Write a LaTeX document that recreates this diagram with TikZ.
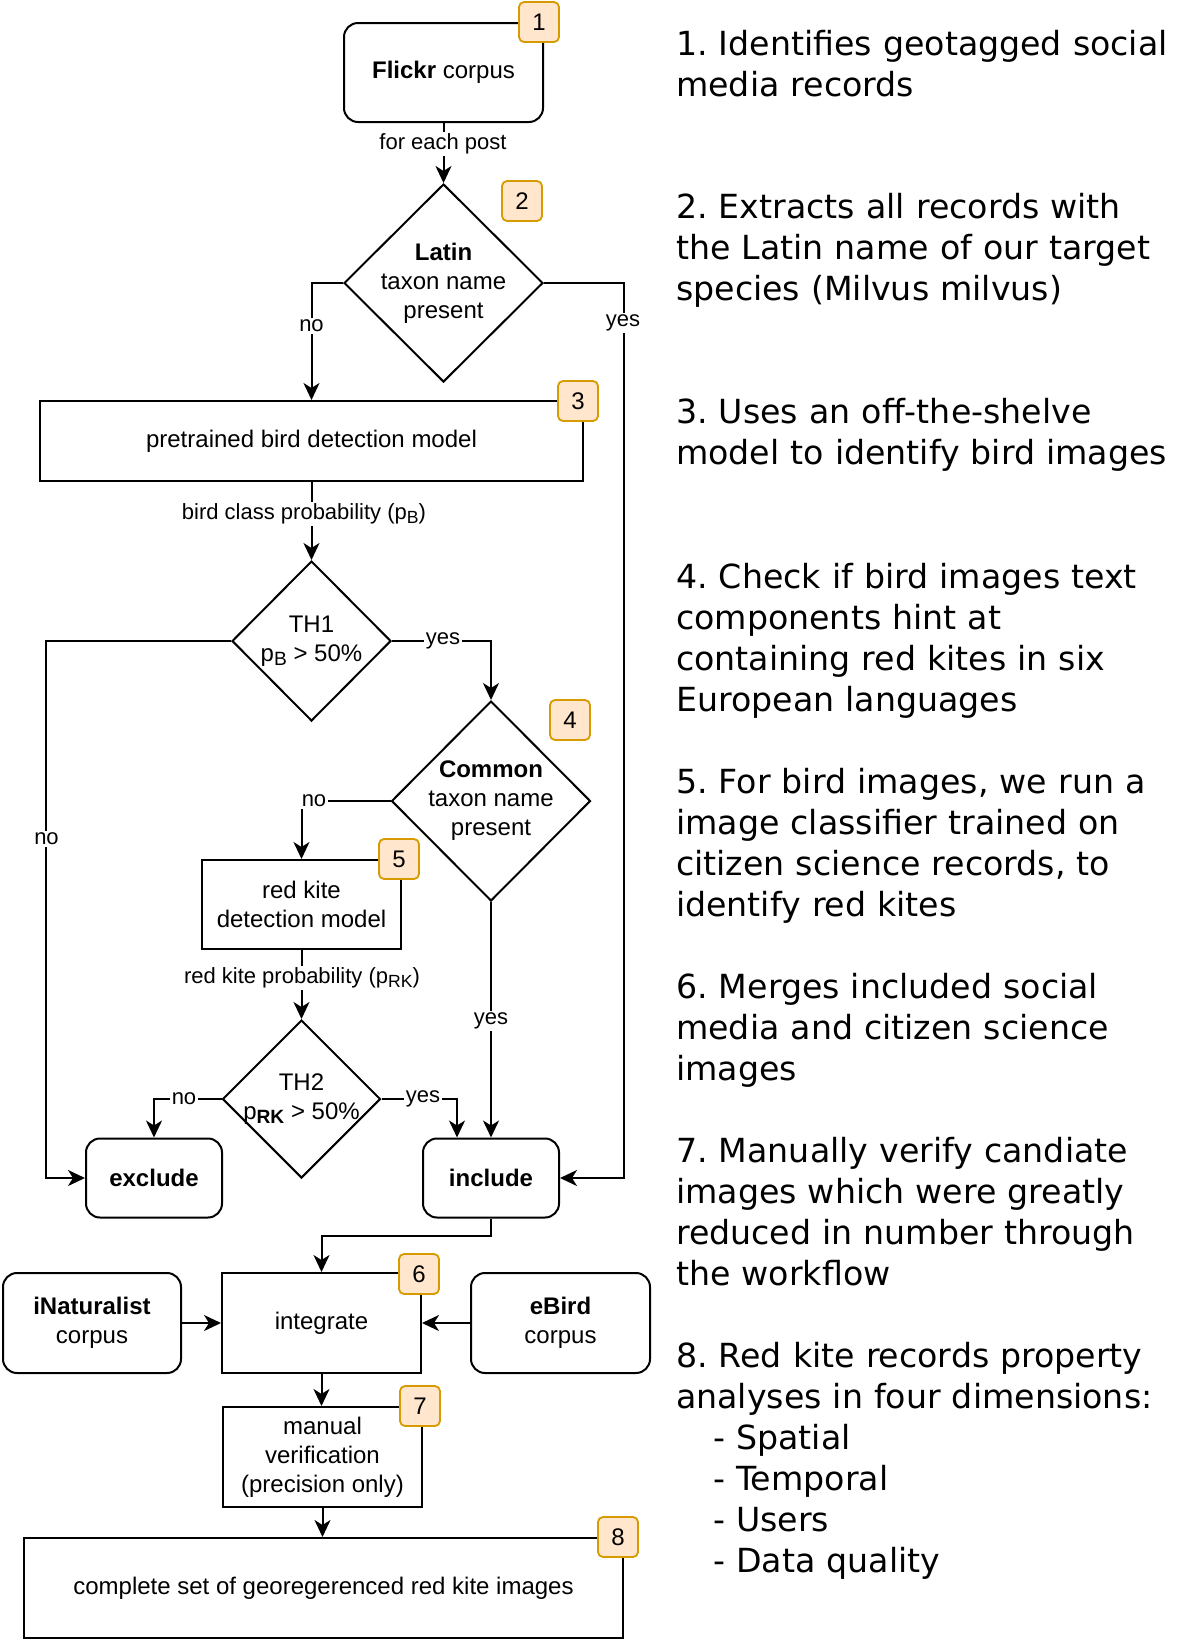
\documentclass[tikz,border=0pt]{standalone}
\usepackage{fontspec}
\setmainfont{Liberation Sans}
\newfontfamily\vfont{DejaVu Sans}
\usetikzlibrary{shapes.geometric,arrows.meta}
\definecolor{badgefill}{HTML}{FFE6CC}
\definecolor{badgeline}{HTML}{D79B00}
\newcommand{\mysub}[1]{\raisebox{-0.35ex}{\fontsize{0.8\dimexpr\csname f@size\endcsname pt\relax}{10}\selectfont #1}}
\begin{document}
\begin{tikzpicture}[x=1pt,y=-1pt,
 base/.style={draw, line width=2pt, font=\fontsize{24}{29}\selectfont, align=center, inner sep=0pt},
 rbox/.style={base, rounded corners=14pt},
 sbox/.style={base},
 dia/.style={base, shape=diamond, inner sep=-3pt},
 badge/.style={draw=badgeline, fill=badgefill, line width=1.8pt, rounded corners=5pt, minimum width=40pt, minimum height=40pt, inner sep=0pt, font=\fontsize{24}{28}\selectfont},
 lbl/.style={fill=white, inner sep=1.5pt, font=\fontsize{22}{26}\selectfont},
 arr/.style={line width=2pt, -{Stealth[length=17pt,width=16pt,inset=5pt]}},
 ln/.style={line width=2pt},
 note/.style={anchor=base west, text width=600pt, align=left, inner sep=0pt, font=\vfont\fontsize{33.2}{41}\selectfont\frenchspacing},
]
\useasboundingbox (0,0) rectangle (1190,1650);

% nodes
\node[rbox, minimum width=199pt, minimum height=99pt] (flickr) at (443.5,72.5) {\textbf{Flickr} corpus};
\node[dia, minimum width=199pt, minimum height=198pt] (d2) at (443.5,283) {\textbf{Latin}\\taxon name\\present};
\node[sbox, minimum width=543pt, minimum height=80pt] (box3) at (311.5,441) {pretrained bird detection model};
\node[dia, minimum width=159pt, minimum height=160pt] (th1) at (311.5,641) {TH1\\p\mysub{B} > 50\%};
\node[dia, minimum width=199pt, minimum height=200pt] (common) at (491,801) {\textbf{Common}\\taxon name\\present};
\node[sbox, minimum width=199pt, minimum height=89pt] (box5) at (301.5,904.5) {red kite\\detection model};
\node[dia, minimum width=158pt, minimum height=158pt] (th2) at (301.5,1099) {TH2\\p\mysub{\textbf{RK}} > 50\%};
\node[rbox, minimum width=136pt, minimum height=79pt] (exclude) at (154,1178) {\textbf{exclude}};
\node[rbox, minimum width=136pt, minimum height=79pt] (include) at (491,1178) {\textbf{include}};
\node[sbox, minimum width=199pt, minimum height=100pt] (integrate) at (321.5,1323) {integrate};
\node[rbox, minimum width=178pt, minimum height=100pt] (inat) at (92,1323) {\textbf{iNaturalist}\\corpus};
\node[rbox, minimum width=179pt, minimum height=100pt] (ebird) at (560.5,1323) {\textbf{eBird}\\corpus};
\node[sbox, minimum width=199pt, minimum height=100pt] (manual) at (322.5,1457) {manual\\verification\\(precision only)};
\node[sbox, minimum width=599pt, minimum height=100pt] (final) at (323.5,1588) {complete set of georegerenced red kite images};

% connectors
\draw[arr] (flickr.south) -- (d2.north);
\draw[arr] (d2.west) -| (box3.north);
\draw[arr] (d2.east) -- ++(80,0) |- (include.east);
\draw[arr] (box3.south) -- (th1.north);
\draw[arr] (th1.west) -- ++(-185,0) |- (exclude.west);
\draw[arr] (th1.east) -| (common.north);
\draw[arr] (common.west) -| (box5.north);
\draw[arr] (box5.south) -- (th2.north);
\draw[arr] (th2.west) -| (exclude.north);
\draw[arr] (th2.east) -| ([xshift=-34pt]include.north);
\draw[arr] (common.south) -- (include.north);
\draw[arr] (include.south) -- ++(0,17) -| (integrate.north);
\draw[arr] (inat.east) -- (integrate.west);
\draw[arr] (ebird.west) -- (integrate.east);
\draw[arr] (integrate.south) -- (integrate.south |- manual.north);
\draw[arr] (manual.south) -- (manual.south |- final.north);

% labels
\node[lbl] (l1) at (443,144) {for each post};
\node[lbl] (l2) at (311.5,326) {no};
\node[lbl] (l3) at (623,323) {yes};
\node[lbl] (l4) at (304,514) {bird class probability (p\mysub{B})};
\node[lbl] (l5) at (443,641) {yes};
\node[lbl] (l6) at (46.5,839) {no};
\node[lbl] (l7) at (314,801) {no};
\node[lbl] (l8) at (302,978) {red kite probability (p\mysub{RK})};
\node[lbl] (l9) at (491,1021) {yes};
\node[lbl] (l10) at (184,1099) {no};
\node[lbl] (l11) at (423,1099) {yes};

% badges
\node[badge] (b1) at (539,22) {1};
\node[badge] (b2) at (522,201) {2};
\node[badge] (b3) at (578,401) {3};
\node[badge] (b4) at (570,720) {4};
\node[badge] (b5) at (399,859) {5};
\node[badge] (b6) at (419,1274) {6};
\node[badge] (b7) at (420,1406) {7};
\node[badge] (b8) at (618,1537) {8};

% notes
\node[note] (n1) at (676,55) {1. Identifies geotagged social\\media records};
\node[note] (n2) at (676,218) {2. Extracts all records with\\the Latin name of our target\\species (Milvus milvus)};
\node[note] (n3) at (676,423) {3. Uses an off-the-shelve\\model to identify bird images};
\node[note] (n4) at (676,588) {4. Check if bird images text\\components hint at\\containing red kites in six\\European languages};
\node[note] (n5) at (676,793) {5. For bird images, we run a\\image classifier trained on\\citizen science records, to\\identify red kites};
\node[note] (n6) at (676,998) {6. Merges included social\\media and citizen science\\images};
\node[note] (n7) at (676,1162) {7. Manually verify candiate\\images which were greatly\\reduced in number through\\the workflow};
\node[note] (n8) at (676,1367) {8. Red kite records property\\analyses in four dimensions:\\\hspace*{37pt}- Spatial\\\hspace*{37pt}- Temporal\\\hspace*{37pt}- Users\\\hspace*{37pt}- Data quality};
\end{tikzpicture}
\end{document}
